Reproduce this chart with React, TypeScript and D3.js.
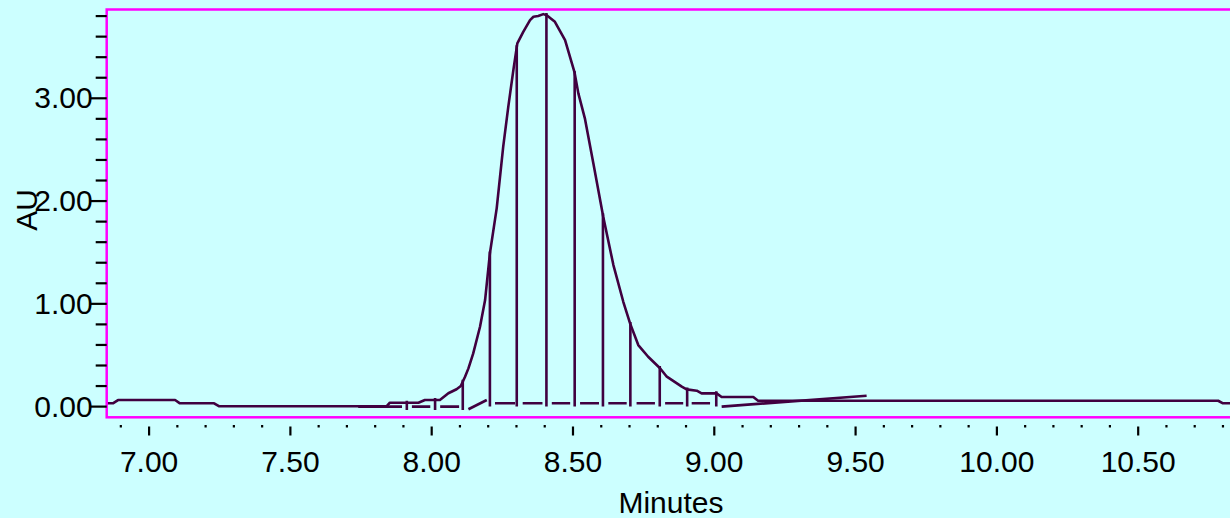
import * as d3 from "d3";

// chromatogram trace (minutes, AU)
const traceTimes = [6.85, 6.872, 6.89, 7.092, 7.109, 7.23, 7.247, 7.841, 7.852, 7.953, 7.976, 8.029, 8.059, 8.088, 8.103,
  8.118, 8.13, 8.147, 8.171, 8.189, 8.206, 8.23, 8.253, 8.271, 8.289, 8.303, 8.324, 8.348, 8.36, 8.377, 8.395, 8.407,
  8.436, 8.472, 8.505, 8.519, 8.542, 8.572, 8.607, 8.643, 8.678, 8.702, 8.731, 8.766, 8.808, 8.832, 8.885, 8.902,
  8.938, 8.955, 9.008, 9.026, 9.138, 9.155, 10.783, 10.8, 10.85];
const traceAU = [0.032, 0.032, 0.064, 0.064, 0.032, 0.032, 0.004, 0.004, 0.038, 0.038, 0.064, 0.064, 0.13, 0.169, 0.201,
  0.291, 0.372, 0.518, 0.777, 1.037, 1.491, 1.929, 2.528, 2.917, 3.274, 3.534, 3.647, 3.761, 3.793, 3.8, 3.819, 3.809,
  3.744, 3.566, 3.258, 3.048, 2.805, 2.367, 1.847, 1.377, 1.02, 0.81, 0.599, 0.485, 0.373, 0.291, 0.194, 0.168,
  0.155, 0.129, 0.129, 0.093, 0.093, 0.057, 0.057, 0.032, 0.032];

// fraction drop lines
const dropTimes = [7.912, 8.012, 8.11, 8.206, 8.301, 8.406, 8.506, 8.606, 8.703, 8.807, 8.904, 9.007];
const dropFloor = [-0.033, -0.033, -0.033, 0, 0, 0, 0, 0, 0, 0, 0, 0];

// integration baseline pieces [t0, au0, t1, au1]
const baselineSegments = [
  [7.74, 0, 7.895, 0],
  [7.93, 0, 7.995, 0],
  [8.03, 0, 8.097, 0],
  [8.13, -0.026, 8.195, 0.064],
  [8.224, 0.032, 8.295, 0.032],
  [8.322, 0.032, 8.392, 0.032],
  [8.425, 0.032, 8.49, 0.032],
  [8.525, 0.032, 8.592, 0.032],
  [8.625, 0.032, 8.69, 0.032],
  [8.725, 0.032, 8.79, 0.032],
  [8.826, 0.032, 8.89, 0.032],
  [8.92, 0.032, 8.985, 0.032],
  [9.026, 0, 9.539, 0.106],
];

const xMajor = [7.0, 7.5, 8.0, 8.5, 9.0, 9.5, 10.0, 10.5];
const yMajor = [0, 1, 2, 3];

const width = 1230;
const height = 518;
const ink = "#400040";
const font = "'Liberation Sans', Arial, sans-serif";

export default function App() {
  const x = d3.scaleLinear().domain([6.85, 10.85]).range([106.7, 1237.1]);
  const y = d3.scaleLinear().domain([-0.104, 3.864]).range([417.3, 9.5]);

  const pts: [number, number][] = traceTimes.map((t, i) => [t, traceAU[i]]);
  const line = d3.line<[number, number]>().x(d => x(d[0])).y(d => y(d[1]));

  const bis = d3.bisector((d: [number, number]) => d[0]).right;
  const valueAt = (t: number) => {
    const i = Math.min(Math.max(bis(pts, t), 1), pts.length - 1);
    const [t0, a0] = pts[i - 1];
    const [t1, a1] = pts[i];
    return a0 + ((t - t0) / (t1 - t0)) * (a1 - a0);
  };

  const xMinor = d3.range(69, 109).map(v => v / 10).filter(v => Math.abs(v * 2 - Math.round(v * 2)) > 0.01);
  const yMinor = d3.range(0, 20).map(v => v / 5).filter(v => Math.abs(v - Math.round(v)) > 0.01);
  const fmt = d3.format(".2f");
  const [left, right] = x.range();
  const [bottom, top] = y.range();

  return (
    <div style={{ position: "fixed", left: 0, top: 0, width, height, background: "#ccffff" }}>
      <svg width={width} height={height} style={{ display: "block" }}>
        <defs>
          <clipPath id="plot">
            <rect x={left} y={top} width={right - left} height={bottom - top} />
          </clipPath>
        </defs>

        <g clipPath="url(#plot)" stroke={ink} fill="none" strokeWidth={2.6}>
          <path d={line(pts) ?? ""} strokeLinejoin="round" />
          {baselineSegments.map((s, i) => (
            <line key={"b" + i} x1={x(s[0])} y1={y(s[1])} x2={x(s[2])} y2={y(s[3])} />
          ))}
          {dropTimes.map((t, i) => (
            <line key={"d" + i} x1={x(t)} x2={x(t)} y1={y(valueAt(t)) - 2} y2={y(dropFloor[i])} />
          ))}
        </g>

        <rect x={left} y={top} width={right - left} height={bottom - top} fill="none" stroke="#ff00ff" strokeWidth={2.5} />

        {/* y axis */}
        <g stroke="#000" strokeWidth={2.2}>
          {yMajor.map(v => (
            <line key={v} x1={left - 16} x2={left} y1={y(v)} y2={y(v)} />
          ))}
          {yMinor.map(v => (
            <line key={v} x1={left - 11} x2={left} y1={y(v)} y2={y(v)} />
          ))}
        </g>
        <g fontFamily={font} fontSize={30} fill="#000" textAnchor="end">
          {yMajor.map(v => (
            <text key={v} x={left - 14} y={y(v) + 10}>{fmt(v)}</text>
          ))}
        </g>
        <text transform={`translate(37,210) rotate(-90)`} textAnchor="middle" fontFamily={font} fontSize={30}>AU</text>

        {/* x axis */}
        <g stroke="#000" strokeWidth={2.2}>
          {xMajor.map(v => (
            <line key={v} x1={x(v)} x2={x(v)} y1={426.5} y2={435.5} />
          ))}
          {xMinor.map(v => (
            <line key={v} x1={x(v)} x2={x(v)} y1={425} y2={427.5} />
          ))}
        </g>
        <g fontFamily={font} fontSize={30} fill="#000" textAnchor="middle">
          {xMajor.map(v => (
            <text key={v} x={x(v)} y={471.5}>{fmt(v)}</text>
          ))}
        </g>
        <text x={671} y={513} textAnchor="middle" fontFamily={font} fontSize={30}>Minutes</text>
      </svg>
    </div>
  );
}
